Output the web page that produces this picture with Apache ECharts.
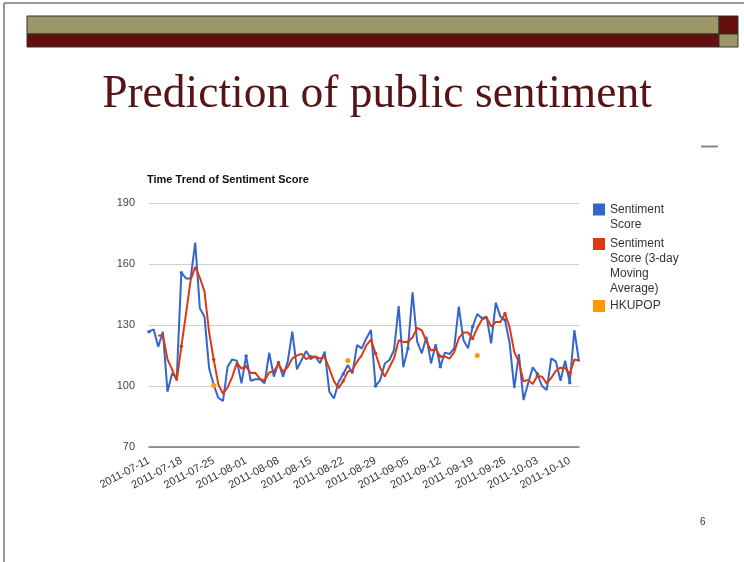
<!DOCTYPE html>
<html>
<head>
<meta charset="utf-8">
<title>Prediction of public sentiment</title>
<script src="https://cdn.jsdelivr.net/npm/echarts/dist/echarts.min.js"></script>
<style>
  html, body { margin: 0; padding: 0; background: #fff; }
  #chart { width: 744px; height: 562px; }
</style>
</head>
<body>
<div id="chart"></div>
<script>
// Daily sentiment score, starting 2011-07-11
const startDate = [2011, 6, 11];
const sentiment = [
  126.7, 127.9, 119.3, 126.7, 97.2, 106.2, 103.8, 155.7, 152.9, 152.9,
  170.5, 138.2, 134.1, 108.7, 100.5, 94.2, 92.6, 109.5, 113.1, 112.4,
  101.3, 114.7, 102.6, 103.3, 103.3, 101.3, 116.4, 104.6, 111.5, 104.6,
  112.0, 126.7, 108.2, 112.8, 117.2, 113.6, 114.4, 111.2, 116.9, 97.2,
  93.9, 102.0, 105.9, 110.3, 106.2, 120.2, 118.5, 123.4, 127.5, 100.0,
  102.9, 111.1, 112.8, 117.7, 139.3, 109.2, 118.5, 146.1, 121.8, 116.1,
  124.2, 111.1, 120.6, 109.5, 116.4, 115.7, 118.5, 139.0, 122.6, 118.5,
  129.2, 135.4, 133.3, 134.1, 121.0, 141.0, 134.1, 132.4, 121.0, 98.9,
  115.7, 93.1, 101.3, 109.2, 105.9, 100.0, 98.0, 113.6, 112.0, 102.6,
  112.4, 101.6, 127.5, 112.0
];

// 3-day moving average (first two days have no value)
const movingAvg = [
  null, null, 124.7, 125.1, 113.1, 108.2, 102.6, 119.5, 135.5, 152.0,
  158.6, 153.2, 146.5, 126.5, 113.0, 100.8, 96.2, 99.3, 104.5, 111.4,
  108.6, 109.5, 106.4, 106.5, 103.5, 102.6, 106.6, 107.2, 110.8, 107.0,
  109.3, 113.6, 115.0, 115.8, 113.2, 114.4, 114.5, 113.5, 114.3, 108.6,
  102.4, 98.9, 102.5, 107.0, 108.0, 112.0, 115.1, 120.0, 122.8, 116.0,
  109.0, 104.6, 109.2, 113.7, 122.5, 121.7, 121.6, 124.0, 128.6, 127.3,
  122.0, 117.4, 118.2, 114.5, 114.5, 113.5, 116.6, 123.5, 126.3, 126.3,
  123.4, 128.5, 132.6, 133.8, 129.2, 131.5, 131.5, 135.6, 128.8, 116.8,
  111.7, 102.3, 103.0, 101.0, 105.0, 104.6, 101.3, 104.0, 107.5, 109.0,
  108.8, 106.0, 113.0, 112.5
];

// HKUPOP poll readings
const hkupopDates = ['2011-07-25', '2011-08-23', '2011-09-20'];
const hkupopValues = [100.2, 112.6, 115.0];

// Weekly date labels on the x axis
const weekLabels = [
  '2011-07-11', '2011-07-18', '2011-07-25', '2011-08-01', '2011-08-08',
  '2011-08-15', '2011-08-22', '2011-08-29', '2011-09-05', '2011-09-12',
  '2011-09-19', '2011-09-26', '2011-10-03', '2011-10-10'
];

// Value axis ticks
const yTicks = [70, 100, 130, 160, 190];

const seriesNames = ['Sentiment Score', 'Sentiment Score (3-day Moving Average)', 'HKUPOP'];
const legendLines = [
  ['Sentiment', 'Score'],
  ['Sentiment', 'Score (3-day', 'Moving', 'Average)'],
  ['HKUPOP']
];

const BLUE = '#3366cc';
const RED = '#dc3912';
const ORANGE = '#ff9900';
const SANS = '"Liberation Sans", Arial, sans-serif';
const SERIF = '"Liberation Serif", "Times New Roman", serif';

// One category per day
const days = [];
const t0 = Date.UTC(startDate[0], startDate[1], startDate[2]);
for (let i = 0; i < sentiment.length; i++) {
  days.push(new Date(t0 + i * 86400000).toISOString().slice(0, 10));
}

// Legend entries: the label block is padded with empty lines above it so that
// its first line sits level with the colour box.
const LH = 15;
function legendEntry(k, boxTop) {
  const n = legendLines[k].length;
  const label = new Array(n - 1).fill('').concat(legendLines[k]).join('\n');
  const rectTop = 6 - (2 * n - 1) * LH / 2;
  return {
    show: true,
    orient: 'vertical',
    left: 593,
    top: boxTop + Math.min(0, rectTop),
    padding: 0,
    itemGap: 0,
    itemWidth: 12,
    itemHeight: 12,
    selectedMode: false,
    icon: 'rect',
    itemStyle: { borderWidth: 0 },
    formatter: () => label,
    textStyle: { fontFamily: SANS, fontSize: 12, color: '#333', lineHeight: LH },
    data: [{ name: seriesNames[k], icon: 'rect' }]
  };
}

const chart = echarts.init(document.getElementById('chart'), null, { renderer: 'canvas' });

chart.setOption({
  animation: false,
  backgroundColor: '#fff',
  title: {
    text: 'Time Trend of Sentiment Score',
    left: 147,
    top: 174,
    padding: 0,
    textStyle: { fontFamily: SANS, fontSize: 11, fontWeight: 'bold', color: '#111' }
  },
  legend: [
    legendEntry(0, 203.5),
    legendEntry(1, 238),
    legendEntry(2, 300)
  ],
  grid: {
    left: 149,
    right: 165,
    top: 203,
    bottom: 115,
    containLabel: false,
    outerBoundsMode: 'none'
  },
  xAxis: {
    type: 'category',
    data: days,
    boundaryGap: false,
    axisLine: { show: true, lineStyle: { color: '#777', width: 1.5 } },
    axisTick: { show: false },
    splitLine: { show: false },
    axisLabel: {
      interval: (idx, val) => weekLabels.includes(val),
      rotate: 28,
      margin: 13,
      fontFamily: SANS,
      fontSize: 11,
      color: '#333',
      hideOverlap: false
    }
  },
  yAxis: {
    type: 'value',
    min: yTicks[0],
    max: yTicks[yTicks.length - 1],
    interval: yTicks[1] - yTicks[0],
    axisLine: { show: false },
    axisTick: { show: false },
    splitLine: { show: true, lineStyle: { color: '#cfcfcf', width: 1 } },
    axisLabel: { margin: 14, fontFamily: SANS, fontSize: 11, color: '#444' }
  },
  series: [
    {
      name: seriesNames[0],
      type: 'line',
      data: sentiment,
      symbol: 'circle',
      symbolSize: 3.5,
      showSymbol: true,
      lineStyle: { color: BLUE, width: 2 },
      itemStyle: { color: BLUE, borderWidth: 0 },
      emphasis: { disabled: true },
      z: 2
    },
    {
      name: seriesNames[1],
      type: 'line',
      data: movingAvg,
      symbol: 'circle',
      symbolSize: 3.5,
      showSymbol: true,
      connectNulls: false,
      lineStyle: { color: RED, width: 2 },
      itemStyle: { color: RED, borderWidth: 0 },
      emphasis: { disabled: true },
      z: 3
    },
    {
      name: seriesNames[2],
      type: 'scatter',
      data: hkupopDates.map((d, i) => [d, hkupopValues[i]]),
      symbol: 'circle',
      symbolSize: 5,
      itemStyle: { color: ORANGE, borderWidth: 0, opacity: 1 },
      emphasis: { disabled: true },
      z: 4
    }
  ],
  graphic: [
    // slide frame
    { type: 'line', shape: { x1: 4, y1: 3, x2: 744, y2: 3 }, style: { stroke: '#777', lineWidth: 1.5 }, silent: true },
    { type: 'line', shape: { x1: 4, y1: 3, x2: 4, y2: 562 }, style: { stroke: '#777', lineWidth: 1.5 }, silent: true },
    // header bands
    { type: 'rect', shape: { x: 27, y: 16, width: 692, height: 18 }, style: { fill: '#9b9766', stroke: '#333', lineWidth: 1 }, silent: true },
    { type: 'rect', shape: { x: 27, y: 34, width: 692, height: 13 }, style: { fill: '#640e0e', stroke: '#333', lineWidth: 1 }, silent: true },
    { type: 'rect', shape: { x: 719, y: 16, width: 19, height: 18 }, style: { fill: '#640e0e', stroke: '#333', lineWidth: 1 }, silent: true },
    { type: 'rect', shape: { x: 719, y: 34, width: 19, height: 13 }, style: { fill: '#9b9766', stroke: '#333', lineWidth: 1 }, silent: true },
    // slide heading
    {
      type: 'text', x: 377, y: 95, silent: true,
      style: {
        text: 'Prediction of public sentiment',
        font: '45.5px ' + SERIF,
        fill: '#561414',
        textAlign: 'center',
        textVerticalAlign: 'middle'
      }
    },
    // small rule at right
    { type: 'line', shape: { x1: 701, y1: 146.5, x2: 718, y2: 146.5 }, style: { stroke: '#888', lineWidth: 2 }, silent: true },
    // page number
    {
      type: 'text', x: 700, y: 522, silent: true,
      style: { text: '6', font: '10px ' + SANS, fill: '#333', textAlign: 'left', textVerticalAlign: 'middle' }
    }
  ]
});
</script>
</body>
</html>
